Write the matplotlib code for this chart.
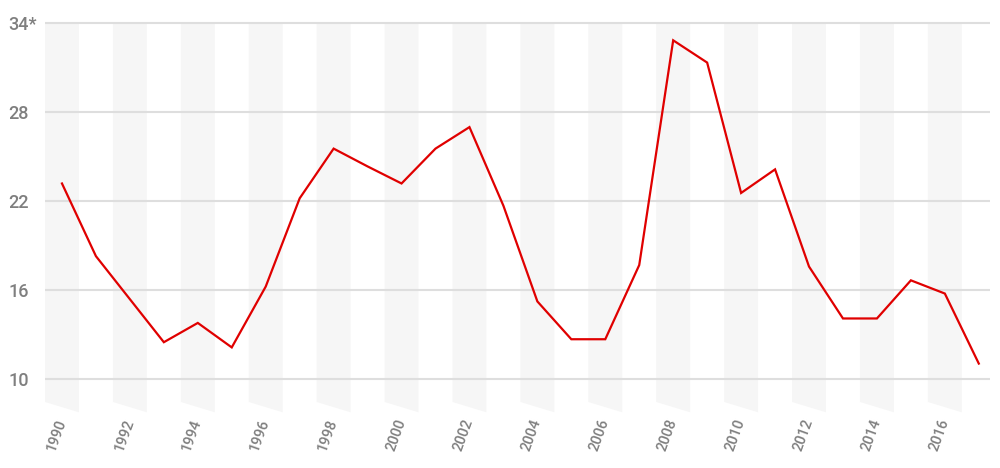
import matplotlib
matplotlib.use("Agg")
import matplotlib.pyplot as plt
from matplotlib.patches import Polygon

years = list(range(1990, 2018))
values = [23.2, 18.3, 15.4, 12.5, 13.8, 12.15, 16.25, 22.2, 25.55, 24.35,
          23.2, 25.55, 27.0, 21.7, 15.25, 12.7, 12.7, 17.7, 32.85, 31.35,
          22.56, 24.15, 17.6, 14.1, 14.1, 16.67, 15.78, 11.06]
y_ticks = [10, 16, 22, 28, 34]
y_labels = ["10", "16", "22", "28", "34*"]
x_ticks = list(range(1990, 2017, 2))

TEXT = "#7f7f7f"
plt.rcParams['font.family'] = ['Roboto', 'DejaVu Sans']

fig = plt.figure(figsize=(10, 4.68), dpi=100)
ax = fig.add_axes([0.045, 1 - 415 / 468, 0.945, 395 / 468])
ax.set_xlim(1989.5, 2017.33)
ax.set_ylim(7.593, 34.22)

# grey stripes on even years, slanted bottom edge
for yr in years:
    if yr % 2 == 0:
        poly = Polygon([(yr - 0.5, 34), (yr + 0.5, 34), (yr + 0.5, 7.775), (yr - 0.5, 8.47)],
                       closed=True, facecolor="#f6f6f6", edgecolor="none", zorder=0,
                       clip_on=False)
        ax.add_patch(poly)

for t in y_ticks:
    ax.axhline(t, color="#dedede", linewidth=1.5, zorder=1)

ax.plot(years, values, color="#e00000", linewidth=1.6, zorder=3, solid_joinstyle="miter")

ax.set_yticks(y_ticks)
ax.set_yticklabels(y_labels, fontsize=13, color=TEXT, fontweight="medium")
for lab in ax.get_yticklabels():
    lab.set_horizontalalignment("left")
ax.tick_params(axis="y", length=0, pad=26.6)

ax.set_xticks(x_ticks)
ax.set_xticklabels([str(x) for x in x_ticks], rotation=70, ha="right", va="center",
                   rotation_mode="anchor", fontsize=10.5, color=TEXT, fontweight="medium")
ax.tick_params(axis="x", length=0, pad=3)

for s in ax.spines.values():
    s.set_visible(False)

fig.savefig("out.png", dpi=100)
